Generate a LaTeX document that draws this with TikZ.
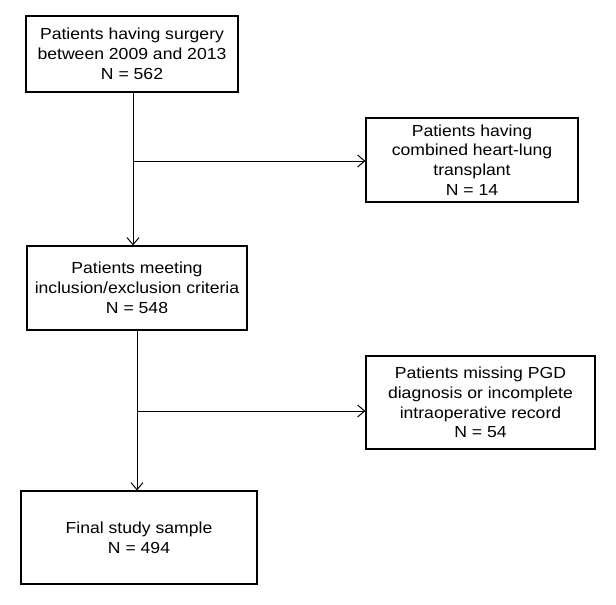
\documentclass[tikz,border=0pt]{standalone}
\usepackage{fontspec}
\setmainfont[FakeStretch=1.1]{Liberation Sans}
\usetikzlibrary{arrows.meta}
\begin{document}
\begin{tikzpicture}[x=1pt,y=-1pt,
  box/.style={draw, line width=1.2pt, align=center, inner sep=0pt,
    font=\fontsize{16}{19.8}\selectfont},
  conn/.style={line width=1pt},
  arr/.style={conn, -{Straight Barb[length=7pt,width=12pt]}}]
\useasboundingbox (0,0) rectangle (616,605);
\node[box, minimum width=212pt, minimum height=76pt] (b1) at (132,54)
  {Patients having surgery\\between 2009 and 2013\\N = 562};
\node[box, minimum width=212pt, minimum height=84pt] (b2) at (472,160)
  {Patients having\\combined heart-lung\\transplant\\N = 14};
\node[box, minimum width=220pt, minimum height=84pt] (b3) at (137,288)
  {Patients meeting\\inclusion/exclusion criteria\\N = 548};
\node[box, minimum width=229pt, minimum height=93pt] (b4) at (480.5,402.5)
  {Patients missing PGD\\diagnosis or incomplete\\intraoperative record\\N = 54};
\node[box, minimum width=236pt, minimum height=93pt] (b5) at (139,537.5)
  {Final study sample\\N = 494};
\coordinate (j1) at (133,161);
\coordinate (j2) at (137,411);
\draw[arr] (b1.south -| j1) -- (j1 |- b3.north);
\draw[arr] (j1) -- (j1 -| b2.west);
\draw[arr] (b3.south -| j2) -- (j2 |- b5.north);
\draw[arr] (j2) -- (j2 -| b4.west);
\end{tikzpicture}
\end{document}
